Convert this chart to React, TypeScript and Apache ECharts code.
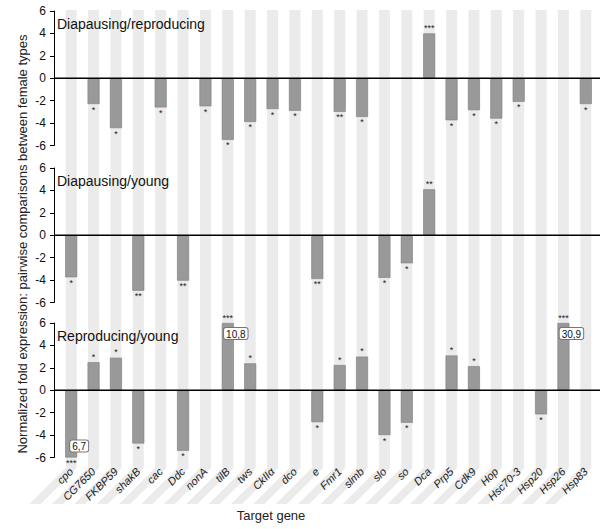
import React, { useEffect, useRef } from "react";
import * as echarts from "echarts";

const genes = ["cpo", "CG7650", "FKBP59", "shakB", "cac", "Ddc", "nonA", "tilB", "tws", "CkIIα", "dco", "e", "Fmr1", "slmb", "slo", "so", "Dca", "Prp5", "Cdk9", "Hop", "Hsc70-3", "Hsp20", "Hsp26", "Hsp83"];

const panelTitles = ["Diapausing/reproducing", "Diapausing/young", "Reproducing/young"];

const diapReproValues = [null, -2.3, -4.45, null, -2.6, null, -2.5, -5.5, -3.9, -2.75, -2.9, null, -3.0, -3.45, null, null, 4.0, -3.75, -2.85, -3.6, -2.1, null, null, -2.3];
const diapReproStars = ["", "*", "*", "", "*", "", "*", "*", "*", "*", "*", "", "**", "*", "", "", "***", "*", "*", "*", "*", "", "", "*"];

const diapYoungValues = [-3.75, null, null, -4.95, null, -4.05, null, null, null, null, null, -3.9, null, null, -3.8, -2.5, 4.1, null, null, null, null, null, null, null];
const diapYoungStars = ["*", "", "", "**", "", "**", "", "", "", "", "", "**", "", "", "*", "*", "**", "", "", "", "", "", "", ""];

const reproYoungValues = [-6.7, 2.5, 2.9, -4.75, null, -5.4, null, 10.8, 2.4, null, null, -2.85, 2.25, 3.0, -4.0, -2.9, null, 3.1, 2.15, null, null, -2.15, 30.9, null];
const reproYoungStars = ["***", "*", "*", "*", "", "*", "", "***", "*", "", "", "*", "*", "*", "*", "*", "", "*", "*", "", "", "*", "***", ""];

const yTicks = [-6, -4, -2, 0, 2, 4, 6];

const panels = [
  { values: diapReproValues, stars: diapReproStars },
  { values: diapYoungValues, stars: diapYoungStars },
  { values: reproYoungValues, stars: reproYoungStars },
];

const FONT = "'Liberation Sans', Arial, Helvetica, sans-serif";
const Y_MIN = yTicks[0];
const Y_MAX = yTicks[yTicks.length - 1];
const clamp = (v: number) => Math.max(Y_MIN, Math.min(Y_MAX, v));

export default function App() {
  const ref = useRef<HTMLDivElement>(null);
  useEffect(() => {
    if (!ref.current) return;
    const chart = echarts.init(ref.current, null, { renderer: "svg" });
    const gridTops = [11, 168, 323];
    const gridH = 134.5;
    const grids: any[] = gridTops.map((t) => ({ left: 60, width: 537, top: t, height: gridH }));
    grids.push({ left: 60, width: 537, top: 10, height: 458 });

    const xAxes: any[] = [0, 1, 2].map((i) => ({
      type: "category", gridIndex: i, data: genes,
      axisLine: { show: false }, axisTick: { show: false }, axisLabel: { show: false },
    }));
    xAxes.push({
      type: "category", gridIndex: 2, data: genes, position: "bottom",
      axisLine: { show: false }, axisTick: { show: false },
      axisLabel: { show: true, interval: 0, rotate: 45, fontSize: 11, fontStyle: "italic", color: "#222", margin: 12, fontFamily: FONT },
    });
    xAxes.push({ type: "category", gridIndex: 3, data: genes, show: false });

    const yAxes: any[] = [0, 1, 2].map((i) => ({
      type: "value", gridIndex: i, min: Y_MIN, max: Y_MAX, interval: 2, offset: 6,
      axisLine: { show: true, lineStyle: { color: "#000", width: 1 } },
      axisTick: { show: true, length: 4, lineStyle: { color: "#000" } },
      axisLabel: { fontSize: 12, color: "#111", margin: 8, fontFamily: FONT },
      splitLine: { show: false },
    }));
    yAxes.push({ type: "value", gridIndex: 3, min: 0, max: 1, show: false });

    const series: any[] = [];
    series.push({
      type: "custom", xAxisIndex: 4, yAxisIndex: 3, z: 0, silent: true,
      data: genes.map((g, i) => [i, 1]),
      renderItem: (params: any, api: any) => {
        const cs = params.coordSys;
        const cx = api.coord([api.value(0), 0])[0];
        const w = 11;
        const d = 36;
        const top = cs.y;
        const bot = cs.y + cs.height;
        return {
          type: "polygon",
          shape: { points: [[cx - w / 2, top], [cx + w / 2, top], [cx + w / 2, bot], [cx + w / 2 - d, bot + d], [cx - w / 2 - d, bot + d], [cx - w / 2, bot]] },
          style: { fill: "#ebebeb" },
        };
      },
    });

    panels.forEach((p, i) => {
      series.push({
        type: "bar", xAxisIndex: i, yAxisIndex: i, barWidth: 12, z: 2,
        itemStyle: { color: "#999999", borderColor: "#7d7d7d", borderWidth: 0.6 },
        label: { show: true, fontSize: 9, color: "#222", distance: 1, fontFamily: FONT, formatter: (pp: any) => p.stars[pp.dataIndex] },
        data: p.values.map((v) => v == null ? "-" : { value: clamp(v), label: { position: v >= 0 ? "top" : "bottom" } }),
      });
      series.push({
        type: "bar", xAxisIndex: i, yAxisIndex: i, barWidth: 12, barGap: "-100%", z: 3, silent: true,
        itemStyle: { color: "rgba(0,0,0,0)" },
        label: {
          show: true, fontSize: 10, color: "#111", fontFamily: FONT,
          backgroundColor: "#fff", borderColor: "#777", borderWidth: 1, borderRadius: 2, padding: [1, 2, 0, 2],
          formatter: (pp: any) => {
            const v = p.values[pp.dataIndex];
            return v == null ? "" : Math.abs(v).toFixed(1).replace(".", ",");
          },
        },
        data: p.values.map((v) =>
          v == null || Math.abs(v) <= Y_MAX ? "-" : { value: clamp(v), label: { position: v >= 0 ? "insideTop" : "insideBottom", offset: [8, v >= 0 ? 0 : -1] } }),
      });
    });

    chart.setOption({
      animation: false,
      textStyle: { fontFamily: FONT },
      grid: grids,
      xAxis: xAxes,
      yAxis: yAxes,
      title: panelTitles.map((t, i) => ({
        text: t, left: 57, top: gridTops[i] + 6, padding: 0,
        textStyle: { fontSize: 14, fontWeight: "normal", color: "#111", fontFamily: FONT },
      })),
      series,
    });

    const zeros = [0, 1, 2].map((i) => chart.convertToPixel({ yAxisIndex: i } as any, 0) as number);
    chart.setOption({
      graphic: [
        ...zeros.map((y) => ({ type: "line", z: 100, silent: true, shape: { x1: 54, y1: y, x2: 600, y2: y }, style: { stroke: "#000", lineWidth: 1.5 } })),
        {
          type: "text", x: 22, y: 244, rotation: Math.PI / 2, z: 100,
          style: { text: "Normalized fold expression: pairwise comparisons between female types", fontSize: 13, fill: "#222", align: "center", verticalAlign: "middle", fontFamily: FONT },
        },
        {
          type: "text", x: 271, y: 515, z: 100,
          style: { text: "Target gene", fontSize: 13, fill: "#222", align: "center", verticalAlign: "middle", fontFamily: FONT },
        },
      ],
    });
    return () => chart.dispose();
  }, []);
  return <div ref={ref} style={{ position: "fixed", left: 0, top: 0, width: 600, height: 529, background: "#fff" }} />;
}
